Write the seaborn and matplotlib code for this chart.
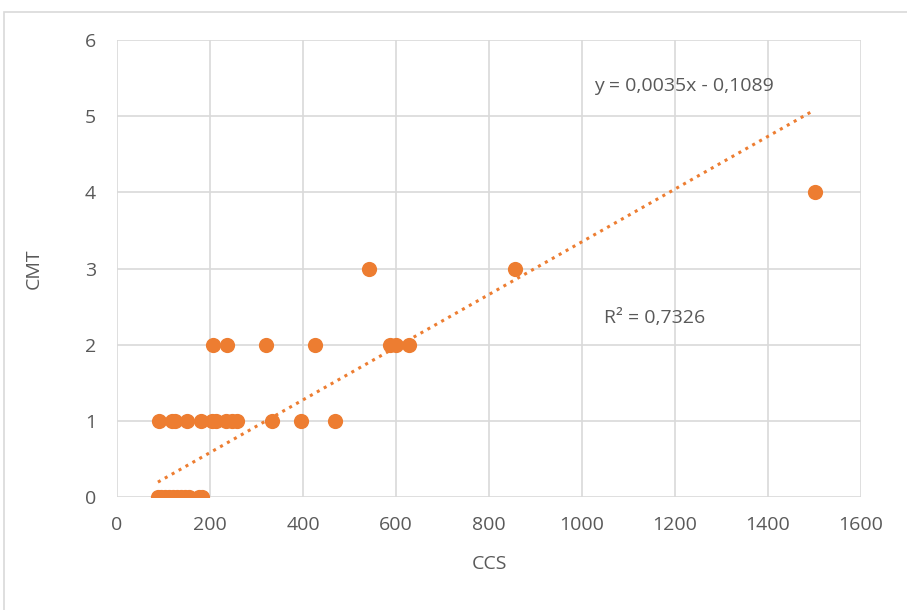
import matplotlib
matplotlib.use("Agg")
import matplotlib.pyplot as plt
import pandas as pd
import seaborn as sns
from matplotlib.patches import Rectangle

# data
ccs_0 = [88, 95, 103, 112, 120, 128, 137, 146, 155, 176, 182]
ccs_1 = [90, 118, 125, 150, 180, 205, 212, 235, 248, 258, 333, 396, 469]
ccs_2 = [207, 237, 320, 426, 588, 600, 628]
ccs_3 = [542, 856]
ccs_4 = [1500]

# Excel linear trendline (as shown on the chart, slope slightly less rounded)
trend_slope = 0.00346
trend_intercept = -0.1089
eq_label = "y = 0,0035x - 0,1089"
r2_label = "R² = 0,7326"

ccs = ccs_0 + ccs_1 + ccs_2 + ccs_3 + ccs_4
cmt = [0] * len(ccs_0) + [1] * len(ccs_1) + [2] * len(ccs_2) + [3] * len(ccs_3) + [4] * len(ccs_4)
df = pd.DataFrame({"CCS": ccs, "CMT": cmt})

sns.set_style("white")
plt.rcParams["font.family"] = ["Open Sans", "DejaVu Sans"]

orange = "#ED7D31"
grey_text = "#595959"
grid_col = "#D9D9D9"
fs = 14

fig = plt.figure(figsize=(9.07, 6.10), dpi=100)
ax = fig.add_axes([117 / 907, 1 - 497 / 610, (861 - 117) / 907, (497 - 40) / 610])

# outer chart border (cropped at right/bottom as in the screenshot)
fig.patches.append(Rectangle((4 / 907, -0.1), 1.2, 1 - 12 / 610 + 0.1,
                             transform=fig.transFigure, fill=False,
                             edgecolor="#D9D9D9", linewidth=1.2))

sns.scatterplot(data=df, x="CCS", y="CMT", ax=ax, color=orange, s=120,
                edgecolor=orange, linewidth=0, zorder=3)

# linear trendline over the data range
x_min, x_max = df["CCS"].min(), df["CCS"].max()
ax.plot([x_min, x_max],
        [trend_slope * x_min + trend_intercept, trend_slope * x_max + trend_intercept],
        color=orange, linestyle=(0, (1, 1.6)), linewidth=2.2, zorder=2)

ax.set_xlim(0, 1600)
ax.set_ylim(0, 6)
ax.set_xticks(range(0, 1601, 200))
ax.set_yticks(range(0, 7))
ax.grid(True, color=grid_col, linewidth=1.2)
ax.set_axisbelow(True)
for s in ax.spines.values():
    s.set_visible(False)
ax.tick_params(axis="both", length=0, labelsize=fs, labelcolor=grey_text)
ax.tick_params(axis="x", pad=14)
ax.tick_params(axis="y", pad=15)

ax.set_xlabel("CCS", fontsize=fs, color=grey_text, labelpad=15)
ax.set_ylabel("CMT", fontsize=fs, color=grey_text, labelpad=30)

ax.text(1026, 5.39, eq_label, fontsize=fs, color=grey_text, ha="left", va="center")
ax.text(1047, 2.35, r2_label, fontsize=fs, color=grey_text, ha="left", va="center")

fig.savefig("out.png", dpi=100)
